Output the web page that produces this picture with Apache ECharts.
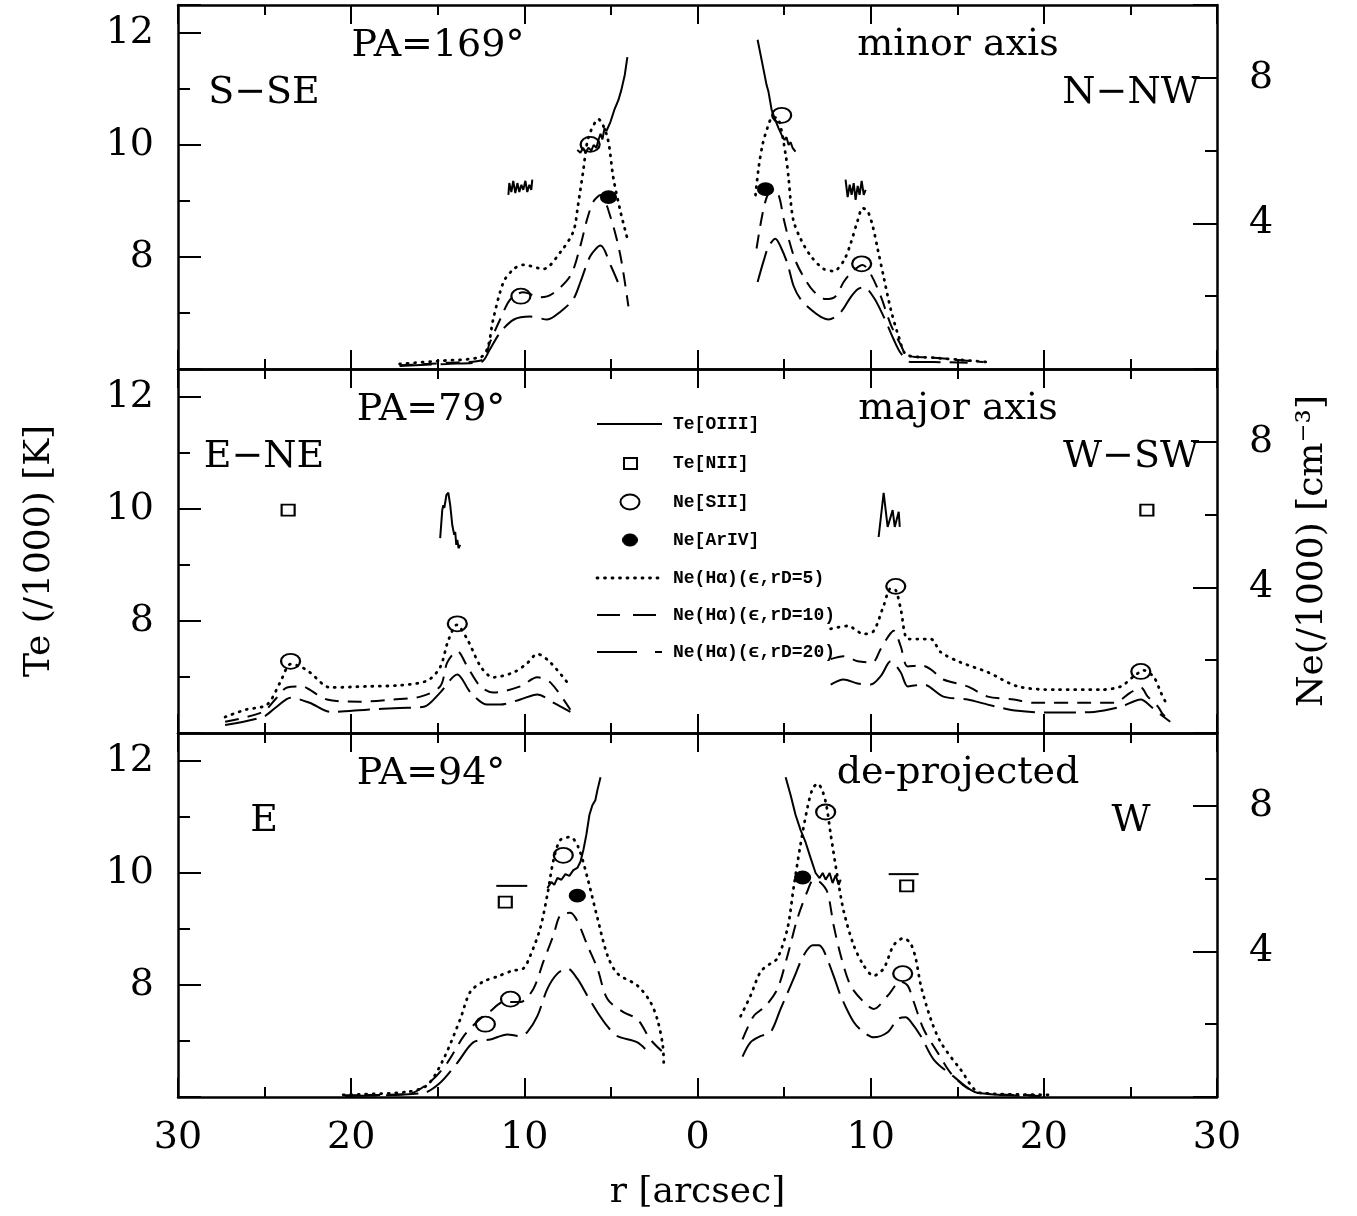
<!DOCTYPE html>
<html>
<head>
<meta charset="utf-8">
<title>Te / Ne radial profiles</title>
<script src="https://cdn.jsdelivr.net/npm/echarts@6.0.0/dist/echarts.min.js"></script>
<style>
html, body { margin: 0; padding: 0; background: #fff; }
#main { width: 1357px; height: 1216px; }
</style>
</head>
<body>
<div id="main"></div>
<script>
// r in arcsec, signed: negative = left half of each panel (labels drop the sign)
// Te in units of 1000 K (left axis), Ne in units of 1000 cm^-3 (right axis)

var teLabels = [8, 10, 12];
var neLabels = [4, 8];
var panelTitles = ['PA=169°', 'PA=79°', 'PA=94°'];
var panelAxes = ['minor axis', 'major axis', 'de-projected'];
var leftDirs = ['S\u2212SE', 'E\u2212NE', 'E'];
var rightDirs = ['N\u2212NW', 'W\u2212SW', 'W'];
var legendNames = ['Te[OIII]', 'Te[NII]', 'Ne[SII]', 'Ne[ArIV]',
    'Ne(H\u03b1)(\u03f5,rD=5)', 'Ne(H\u03b1)(\u03f5,rD=10)', 'Ne(H\u03b1)(\u03f5,rD=20)'];

// ---- PA=169 (minor axis) ----
var teTopA = [[-10.92,9.11],[-10.87,9.32],[-10.75,9.16],[-10.64,9.36],[-10.52,9.14],[-10.4,9.32],[-10.29,9.16],
    [-10.17,9.29],[-10.06,9.2],[-9.94,9.36],[-9.83,9.16],[-9.71,9.29],[-9.6,9.2],[-9.54,9.38]];
var teTopB = [[-6.94,9.91],[-6.76,9.86],[-6.6,9.95],[-6.47,9.86],[-6.3,9.95],[-6.13,9.9],[-6.0,10.0],[-5.84,9.95],
    [-5.72,10.09],[-5.6,10.2],[-5.49,10.1],[-5.37,10.3],[-5.26,10.25],[-5.03,10.41],[-4.8,10.63],[-4.57,10.8],
    [-4.4,10.98],[-4.2,11.25],[-4.05,11.57]];
var teTopC = [[3.47,11.88],[3.76,11.43],[3.99,11.07],[4.1,10.95],[4.28,10.63],[4.45,10.48],[4.68,10.3],[4.86,10.18],
    [5.03,10.09],[5.14,10.14],[5.26,10.0],[5.38,10.05],[5.49,9.95],[5.66,9.88]];
var teTopD = [[8.55,9.38],[8.67,9.07],[8.79,9.29],[8.9,9.11],[9.02,9.32],[9.13,9.02],[9.25,9.27],[9.36,9.11],
    [9.48,9.36],[9.6,9.11],[9.71,9.2]];

var neTop5L = [[-17.2,0.14],[-15,0.22],[-12.5,0.33],[-12.1,0.61],[-11.8,1.36],[-11.2,2.39],[-10.6,2.75],[-10.06,2.86],
    [-8.9,2.75],[-7.9,3.22],[-7.17,3.78],[-6.9,4.5],[-6.6,5.44],[-6.3,6.36],[-5.72,6.86],[-5.2,6.36],[-4.86,5.25],
    [-4.45,4.33],[-4.05,3.58]];
var neTop10L = [[-17.2,0.1],[-14.5,0.17],[-12.4,0.25],[-12.0,0.72],[-11.4,1.36],[-10.8,1.92],[-10.06,2.11],[-9.07,1.97],
    [-8.4,2.06],[-7.34,2.56],[-6.76,3.39],[-6.36,4.14],[-6.0,4.61],[-5.6,4.78],[-5.0,4.14],[-4.45,3.11],[-3.99,1.72]];
var neTop20L = [[-17.2,0.08],[-14.5,0.14],[-12.5,0.19],[-12.0,0.53],[-11.4,1.0],[-10.6,1.36],[-9.65,1.44],[-8.67,1.36],
    [-7.9,1.58],[-7.17,1.92],[-6.76,2.39],[-6.18,3.11],[-5.6,3.39],[-5.0,2.83],[-4.6,2.39]];
var neTop5R = [[3.35,4.78],[3.53,5.53],[3.76,6.17],[4.05,6.64],[4.34,6.92],[4.68,6.86],[5.09,5.89],[5.26,5.25],
    [5.38,4.61],[5.55,4.06],[5.95,3.58],[6.53,3.11],[7.28,2.75],[7.86,2.69],[8.44,2.97],[8.84,3.44],[9.25,4.08],
    [9.54,4.42],[9.83,4.33],[10.12,3.92],[10.4,3.31],[10.75,2.53],[11.16,1.64],[11.62,0.89],[12.08,0.39],
    [13.64,0.31],[15.2,0.25],[16.76,0.19]];
var neTop10R = [[3.41,3.31],[3.76,4.28],[4.05,4.78],[4.34,4.89],[4.68,4.78],[4.97,4.14],[5.26,3.58],[5.66,2.97],
    [6.13,2.53],[6.7,2.14],[7.4,1.92],[7.98,2.0],[8.44,2.39],[8.96,2.69],[9.54,2.86],[10.0,2.61],[10.58,2.0],
    [11.16,1.22],[11.73,0.67],[12.14,0.36],[13.64,0.31],[16.5,0.19]];
var neTop20R = [[3.47,2.39],[3.82,2.97],[4.1,3.36],[4.5,3.58],[4.8,3.36],[5.2,2.89],[5.55,2.28],[5.95,1.92],
    [6.53,1.64],[7.1,1.44],[7.57,1.36],[8.27,1.56],[8.84,1.97],[9.25,2.19],[9.6,2.25],[10.17,1.97],[10.75,1.44],
    [11.33,0.81],[11.73,0.44],[12.3,0.19],[13.64,0.19],[15.6,0.17]];
var siiTop = [[-6.2,6.17],[-10.2,2.0],[4.86,6.97],[9.48,2.89]];
var arTop = [[-5.14,4.72],[3.93,4.94]];

// ---- PA=79 (major axis) ----
var teMidL = [[-14.86,9.48],[-14.74,9.98],[-14.68,10.07],[-14.62,10.02],[-14.5,10.25],[-14.39,10.29],[-14.28,10.07],
    [-14.16,9.71],[-14.05,9.54],[-13.99,9.59],[-13.93,9.36],[-13.87,9.45],[-13.8,9.3],[-13.7,9.36]];
var teMidR = [[10.46,9.5],[10.75,10.29],[10.98,9.68],[11.27,9.98],[11.39,9.68],[11.62,9.95],[11.68,9.68]];

var neMid5L = [[-27.28,0.44],[-26.1,0.64],[-24.86,0.78],[-24.1,1.39],[-23.5,1.89],[-22.95,1.83],[-22.4,1.67],
    [-21.2,1.25],[-19.1,1.28],[-17.2,1.31],[-15.6,1.44],[-14.86,1.81],[-14.4,2.53],[-13.9,2.97],[-13.3,2.58],
    [-12.5,1.81],[-11.8,1.53],[-10.6,1.67],[-9.83,1.92],[-9.25,2.17],[-8.5,1.94],[-7.34,1.28]];
var neMid10L = [[-27.28,0.31],[-25.1,0.58],[-24.3,0.97],[-23.7,1.25],[-22.8,1.28],[-22.4,1.19],[-21.4,0.92],
    [-19.5,0.86],[-17.6,0.92],[-16.0,1.0],[-14.86,1.28],[-14.45,1.94],[-13.87,2.25],[-13.3,1.83],[-12.54,1.28],
    [-11.79,1.11],[-10.23,1.28],[-9.25,1.53],[-8.5,1.39],[-7.34,0.64]];
var neMid20L = [[-27.28,0.22],[-25.1,0.44],[-24.3,0.72],[-23.5,0.97],[-22.4,0.83],[-21.2,0.58],[-19.1,0.64],
    [-17.2,0.69],[-15.8,0.72],[-14.86,1.11],[-13.87,1.61],[-13.1,1.11],[-12.14,0.78],[-11.4,0.78],[-10.23,0.92],
    [-9.25,1.06],[-8.3,0.83],[-7.34,0.58]];
var neMid5R = [[7.69,2.86],[8.67,2.94],[9.6,2.72],[10.17,2.8],[10.75,3.5],[11.16,3.97],[11.45,3.92],[11.73,3.42],
    [12.14,2.58],[12.72,2.58],[13.47,2.58],[14.05,2.22],[15.2,1.94],[16.76,1.67],[18.5,1.28],[20.6,1.19],
    [23.3,1.19],[24.45,1.28],[25.2,1.56],[25.78,1.72],[26.36,1.53],[26.76,1.11],[27.17,0.72]];
var neMid10R = [[7.69,2.03],[8.44,2.11],[9.25,1.97],[10.1,1.94],[10.58,2.31],[11.04,2.67],[11.33,2.81],[11.73,2.39],
    [12.14,1.83],[12.9,1.86],[13.47,1.75],[14.2,1.47],[15.6,1.28],[16.76,1.0],[18.27,0.92],[19.4,0.83],
    [22.3,0.83],[24.05,0.83],[25.0,1.11],[25.6,1.25],[26.0,1.0],[26.6,0.72],[26.9,0.5],[27.3,0.36]];
var neMid20R = [[7.69,1.33],[8.44,1.47],[9.25,1.36],[10.0,1.33],[10.58,1.56],[11.16,1.97],[11.73,1.67],[12.14,1.28],
    [12.6,1.31],[13.06,1.33],[14.2,1.0],[15.6,0.92],[16.76,0.78],[18.5,0.61],[20.6,0.56],[22.9,0.58],
    [24.45,0.72],[25.6,0.92],[26.2,0.72],[26.76,0.5],[27.3,0.31]];
var siiMid = [[-23.5,1.97],[-13.87,3.0],[11.45,4.03],[25.6,1.69]];
var niiMid = [[-23.64,9.98],[25.95,9.98]];

// ---- PA=94 (de-projected) ----
var teBotL = [[-8.67,9.73],[-8.44,9.84],[-8.27,9.79],[-8.09,9.91],[-7.86,9.88],[-7.63,9.98],[-7.4,9.95],[-7.17,10.05],
    [-6.94,10.09],[-6.76,10.2],[-6.59,10.41],[-6.42,10.68],[-6.24,11.04],[-6.07,11.21],[-5.9,11.3],[-5.78,11.48],
    [-5.6,11.71]];
var teBotR = [[5.09,11.71],[5.38,11.39],[5.66,11.04],[5.95,10.77],[6.24,10.55],[6.53,10.27],[6.82,10.0],[7.05,9.91],
    [7.23,10.0],[7.4,9.88],[7.63,10.0],[7.8,9.82],[7.98,9.96],[8.15,9.79],[8.27,9.88]];

var neBot5L = [[-20.46,0.06],[-16.76,0.14],[-15.6,0.33],[-14.68,1.03],[-13.7,2.14],[-13.12,2.89],[-12.37,3.17],
    [-11.56,3.31],[-10.69,3.47],[-10.06,3.53],[-9.65,3.89],[-9.08,4.64],[-8.67,5.56],[-8.32,6.5],[-7.92,7.06],
    [-7.34,7.14],[-6.88,6.86],[-6.36,6.03],[-5.78,4.92],[-5.2,3.89],[-4.62,3.39],[-3.47,3.06],[-2.72,2.61],
    [-2.3,2.1],[-2.0,1.4],[-1.95,0.89]];
var neBot10L = [[-20.46,0.05],[-16.76,0.08],[-15.43,0.42],[-14.45,0.94],[-13.5,1.67],[-12.7,2.08],[-11.96,2.36],
    [-11.2,2.61],[-10.23,2.61],[-9.48,2.97],[-8.9,3.72],[-8.32,4.44],[-7.92,5.0],[-7.34,5.06],[-6.94,4.83],
    [-6.36,4.17],[-5.78,3.53],[-5.2,2.69],[-4.28,2.33],[-3.47,2.14],[-2.72,1.58],[-1.97,1.22]];
var neBot20L = [[-20.35,0.03],[-15.84,0.11],[-14.86,0.39],[-13.87,0.94],[-12.95,1.5],[-11.96,1.58],[-10.98,1.72],
    [-10.23,1.67],[-9.83,1.78],[-9.25,2.22],[-8.67,2.97],[-8.09,3.39],[-7.51,3.53],[-6.94,3.25],[-6.36,2.78],
    [-5.78,2.33],[-5.2,1.94],[-4.62,1.67],[-3.47,1.5],[-2.72,1.17]];
var neBot5R = [[2.49,2.22],[3.06,2.78],[3.64,3.44],[4.22,3.67],[4.62,3.81],[5.2,4.64],[5.55,5.75],[5.95,6.94],
    [6.36,7.97],[6.65,8.47],[6.94,8.61],[7.23,8.39],[7.46,7.97],[7.69,7.22],[8.09,6.03],[8.44,5.11],[9.02,4.17],
    [9.6,3.61],[10.17,3.33],[10.75,3.53],[11.33,4.17],[11.9,4.36],[12.3,4.22],[12.6,3.81],[12.9,3.06],
    [13.47,2.14],[14.05,1.5],[15.2,0.75],[16.36,0.11],[20.4,0.06]];
var neBot10R = [[2.6,1.58],[3.24,2.22],[3.93,2.5],[4.62,2.97],[5.2,3.89],[5.78,4.92],[6.36,5.67],[6.7,5.97],
    [7.1,5.89],[7.51,5.61],[7.86,4.72],[8.27,3.89],[8.84,3.06],[9.6,2.61],[10.17,2.42],[10.98,2.78],[11.73,3.17],
    [12.14,3.06],[12.49,2.61],[13.06,1.86],[13.87,1.22],[14.8,0.56],[16.2,0.11],[19.5,0.05]];
var neBot20R = [[2.6,1.11],[3.06,1.5],[3.64,1.67],[4.22,1.78],[4.8,2.42],[5.55,3.25],[6.13,3.89],[6.65,4.17],
    [7.0,4.17],[7.28,4.03],[7.86,3.33],[8.27,2.78],[9.02,2.06],[9.6,1.78],[10.17,1.64],[10.98,1.78],[11.56,2.14],
    [12.02,2.19],[12.3,2.08],[12.9,1.67],[13.64,1.03],[14.8,0.56],[16.2,0.11],[19.8,0.03]];
var siiBot = [[-7.75,6.64],[-10.8,2.69],[-12.25,2.0],[7.4,7.83],[11.85,3.39]];
var arBot = [[-6.94,5.53],[6.07,6.03]];
var niiBot = [[-11.1,9.48],[12.08,9.77]];
var niiLimL = [[-11.62,9.77],[-9.83,9.77]];
var niiLimR = [[11.04,9.98],[12.77,9.98]];

var chart = echarts.init(document.getElementById('main'));

var panelTops = [5, 369, 733];
var panelH = 364;
var serif = 'DejaVu Serif';
var black = '#000';

// three real panels + three overlay grids (same rect) that only carry the long ticks and labels
var grids = [];
var xAxes = [];
var yAxes = [];
for (var k = 0; k < 6; k++) {
    grids.push({ left: 178, right: 140, top: panelTops[k % 3], height: panelH, show: false });
}
for (var g = 0; g < 3; g++) {
    var bottomLabels = g === 2;
    [ 'bottom', 'top' ].forEach(function (pos) {
        xAxes.push({
            type: 'value', gridIndex: g, position: pos, min: -30, max: 30, interval: 10,
            axisLine: { show: true, onZero: false, lineStyle: { color: black, width: 2.5 } },
            axisTick: { show: true, inside: true, length: 19, lineStyle: { color: black, width: 2 } },
            minorTick: { show: true, splitNumber: 2, length: 10, lineStyle: { color: black, width: 2 } },
            axisLabel: {
                show: bottomLabels && pos === 'bottom', margin: 22, color: black,
                fontFamily: serif, fontSize: 38,
                formatter: function (v) { return String(Math.abs(v)); }
            },
            splitLine: { show: false }, minorSplitLine: { show: false },
            name: bottomLabels && pos === 'bottom' ? 'r [arcsec]' : '',
            nameLocation: 'middle', nameGap: 78,
            nameTextStyle: { fontFamily: serif, fontSize: 36, color: black }
        });
    });
    // short (every 1 kK / every 2 k cm-3) ticks live on the real axes
    yAxes.push({
        type: 'value', gridIndex: g, position: 'left', min: 6, max: 12.5, interval: 1,
        axisLine: { show: true, onZero: false, lineStyle: { color: black, width: 2.5 } },
        axisTick: { show: true, inside: true, length: 12, lineStyle: { color: black, width: 2 } },
        axisLabel: { show: false }, splitLine: { show: false }
    });
    yAxes.push({
        type: 'value', gridIndex: g, position: 'right', min: 0, max: 10, interval: 2,
        axisLine: { show: true, onZero: false, lineStyle: { color: black, width: 2.5 } },
        axisTick: { show: true, inside: true, length: 12, lineStyle: { color: black, width: 2 } },
        axisLabel: { show: false }, splitLine: { show: false }
    });
}
for (var g2 = 0; g2 < 3; g2++) {
    xAxes.push({ type: 'value', gridIndex: 3 + g2, min: -30, max: 30, show: false });
    yAxes.push({
        type: 'value', gridIndex: 3 + g2, position: 'left', min: 6, max: 12.5, interval: 2,
        axisLine: { show: false, onZero: false },
        axisTick: { show: true, inside: true, length: 23, lineStyle: { color: black, width: 2 } },
        axisLabel: {
            margin: 24, color: black, fontFamily: serif, fontSize: 38,
            formatter: function (v) { return teLabels.indexOf(v) >= 0 ? String(v) : ''; }
        },
        splitLine: { show: false },
        name: g2 === 1 ? 'Te (/1000) [K]' : '',
        nameLocation: 'middle', nameRotate: 90, nameGap: 120,
        nameTextStyle: { fontFamily: serif, fontSize: 36, color: black }
    });
    yAxes.push({
        type: 'value', gridIndex: 3 + g2, position: 'right', min: 0, max: 10, interval: 4,
        axisLine: { show: false, onZero: false },
        axisTick: { show: true, inside: true, length: 24, lineStyle: { color: black, width: 2 } },
        axisLabel: {
            margin: 32, color: black, fontFamily: serif, fontSize: 38,
            formatter: function (v) { return neLabels.indexOf(v) >= 0 ? String(v) : ''; }
        },
        splitLine: { show: false },
        name: g2 === 1 ? 'Ne(/1000) [cm\u207b\u00b3]' : '',
        nameLocation: 'middle', nameRotate: 90, nameGap: 78,
        nameTextStyle: { fontFamily: serif, fontSize: 36, color: black }
    });
}

var lineKinds = {
    te:  { type: 'solid', width: 2, cap: 'butt', smooth: false },
    d5:  { type: [1, 6.5], width: 2.8, cap: 'round', smooth: 0.3 },
    d10: { type: [14, 9], width: 2, cap: 'butt', smooth: 0.3 },
    d20: { type: [32, 9], width: 2, cap: 'butt', smooth: 0.3 }
};
function curve(data, g, onNe, kind) {
    var s = lineKinds[kind];
    return {
        type: 'line', xAxisIndex: 2 * g, yAxisIndex: 2 * g + (onNe ? 1 : 0),
        data: data, symbol: 'none', smooth: s.smooth, silent: true, z: 3,
        lineStyle: { color: black, width: s.width, type: s.type, cap: s.cap }
    };
}
var markKinds = {
    sii: { symbol: 'circle', size: [19, 15], fill: 'rgba(255,255,255,0)' },
    ar:  { symbol: 'circle', size: [15, 12], fill: black },
    nii: { symbol: 'rect', size: [13, 11], fill: 'rgba(255,255,255,0)' }
};
function marks(data, g, onNe, kind) {
    var m = markKinds[kind];
    return {
        type: 'scatter', xAxisIndex: 2 * g, yAxisIndex: 2 * g + (onNe ? 1 : 0),
        data: data, symbol: m.symbol, symbolSize: m.size, silent: true, z: 4,
        itemStyle: { color: m.fill, borderColor: black, borderWidth: 2, opacity: 1 }
    };
}

var series = [
    curve(teTopA, 0, false, 'te'), curve(teTopB, 0, false, 'te'),
    curve(teTopC, 0, false, 'te'), curve(teTopD, 0, false, 'te'),
    curve(neTop5L, 0, true, 'd5'), curve(neTop10L, 0, true, 'd10'), curve(neTop20L, 0, true, 'd20'),
    curve(neTop5R, 0, true, 'd5'), curve(neTop10R, 0, true, 'd10'), curve(neTop20R, 0, true, 'd20'),
    marks(siiTop, 0, true, 'sii'), marks(arTop, 0, true, 'ar'),

    curve(teMidL, 1, false, 'te'), curve(teMidR, 1, false, 'te'),
    curve(neMid5L, 1, true, 'd5'), curve(neMid10L, 1, true, 'd10'), curve(neMid20L, 1, true, 'd20'),
    curve(neMid5R, 1, true, 'd5'), curve(neMid10R, 1, true, 'd10'), curve(neMid20R, 1, true, 'd20'),
    marks(siiMid, 1, true, 'sii'), marks(niiMid, 1, false, 'nii'),

    curve(teBotL, 2, false, 'te'), curve(teBotR, 2, false, 'te'),
    curve(niiLimL, 2, false, 'te'), curve(niiLimR, 2, false, 'te'),
    curve(neBot5L, 2, true, 'd5'), curve(neBot10L, 2, true, 'd10'), curve(neBot20L, 2, true, 'd20'),
    curve(neBot5R, 2, true, 'd5'), curve(neBot10R, 2, true, 'd10'), curve(neBot20R, 2, true, 'd20'),
    marks(siiBot, 2, true, 'sii'), marks(arBot, 2, true, 'ar'), marks(niiBot, 2, false, 'nii')
];

// panel annotations
var graphics = [];
function label(text, x, y, font) {
    graphics.push({
        type: 'text', x: x, y: y, silent: true,
        style: { text: text, font: font, fill: black, align: 'center', verticalAlign: 'middle' }
    });
}
var bigFont = '38px "DejaVu Serif"';
var titleX = [438, 431, 431];
for (var p = 0; p < 3; p++) {
    var t = panelTops[p];
    label(panelTitles[p], titleX[p], t + 41, bigFont);
    label(panelAxes[p], 958, t + 40, bigFont);
    label(leftDirs[p], 264, t + 88, bigFont);
    label(rightDirs[p], 1131, t + 88, bigFont);
}

// legend drawn by hand inside the middle panel
var legX = 597, legTextX = 673, legFont = 'bold 18px "Liberation Mono"';
var legY = [424, 463, 502, 540, 578, 615, 652];
graphics.push({ type: 'line', silent: true, shape: { x1: legX, y1: legY[0], x2: legX + 65, y2: legY[0] },
    style: { stroke: black, lineWidth: 2 } });
graphics.push({ type: 'rect', silent: true, shape: { x: 624, y: legY[1] - 5, width: 13, height: 11 },
    style: { fill: 'none', stroke: black, lineWidth: 2 } });
graphics.push({ type: 'ellipse', silent: true, shape: { cx: 630, cy: legY[2], rx: 9.5, ry: 7.5 },
    style: { fill: 'none', stroke: black, lineWidth: 2 } });
graphics.push({ type: 'ellipse', silent: true, shape: { cx: 630, cy: legY[3], rx: 7.5, ry: 6 },
    style: { fill: black, stroke: black, lineWidth: 1 } });
graphics.push({ type: 'line', silent: true, shape: { x1: legX, y1: legY[4], x2: legX + 65, y2: legY[4] },
    style: { stroke: black, lineWidth: 2.8, lineDash: [1, 6.5], lineCap: 'round' } });
graphics.push({ type: 'line', silent: true, shape: { x1: legX, y1: legY[5], x2: legX + 65, y2: legY[5] },
    style: { stroke: black, lineWidth: 2, lineDash: [23, 13] } });
graphics.push({ type: 'line', silent: true, shape: { x1: legX, y1: legY[6], x2: legX + 65, y2: legY[6] },
    style: { stroke: black, lineWidth: 2, lineDash: [40, 18] } });
for (var i = 0; i < legendNames.length; i++) {
    graphics.push({
        type: 'text', x: legTextX, y: legY[i], silent: true,
        style: { text: legendNames[i], font: legFont, fill: black, align: 'left', verticalAlign: 'middle' }
    });
}

var option = {
    backgroundColor: '#fff',
    animation: false,
    grid: grids,
    xAxis: xAxes,
    yAxis: yAxes,
    series: series,
    graphic: graphics
};
chart.setOption(option);
</script>
</body>
</html>
